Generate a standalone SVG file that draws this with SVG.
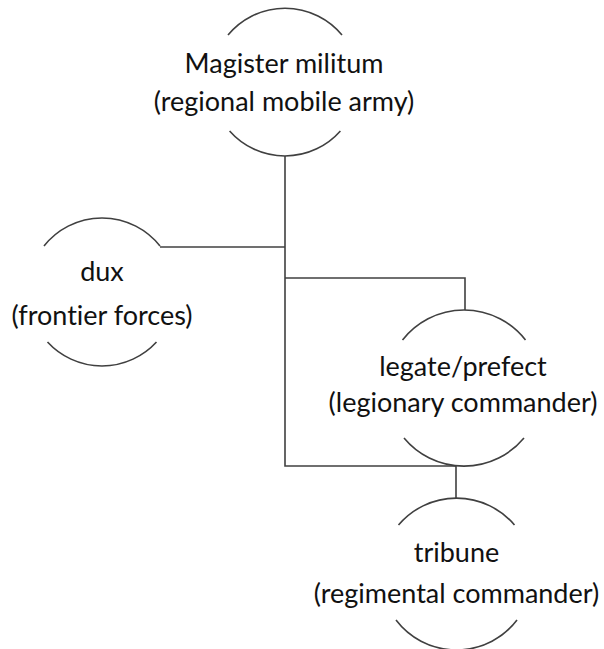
<svg xmlns="http://www.w3.org/2000/svg" width="604" height="649" viewBox="0 0 604 649">
<style>
.arc{fill:none;stroke:#404040;stroke-width:1.6}
.conn{fill:none;stroke:#404040;stroke-width:1.6}
text{font-family:Lato,"Open Sans","Liberation Sans",sans-serif;font-size:27px;fill:#111111;text-anchor:middle;font-variant-ligatures:none;font-feature-settings:"liga" 0,"dlig" 0}
</style>
<rect width="604" height="649" fill="#ffffff"/>
<g id="connectors">
<polyline class="conn" points="285,156 285,466 456,466 456,498"/>
<polyline class="conn" points="160,247 285,247"/>
<polyline class="conn" points="285,278 465,278 465,310"/>
</g>
<g id="magister">
<path class="arc" d="M228,35 A74,74 0 0 1 342,35"/>
<path class="arc" d="M229.6,131 A74,74 0 0 0 340.4,131"/>
<text x="284" y="73">Magister militum</text>
<text x="284" y="111">(regional mobile army)</text>
</g>
<g id="dux">
<path class="arc" d="M44,246 A74,74 0 0 1 160,246"/>
<path class="arc" d="M47.5,342 A74,74 0 0 0 156.5,342"/>
<text x="102" y="281">dux</text>
<text x="102" y="325">(frontier forces)</text>
</g>
<g id="legate">
<path class="arc" d="M402.5,340 A78,78 0 0 1 525.5,340"/>
<path class="arc" d="M404,438 A78,78 0 0 0 524,438"/>
<text x="463" y="376">legate/prefect</text>
<text x="463" y="412">(legionary commander)</text>
</g>
<g id="tribune">
<path class="arc" d="M398.5,525 A76,76 0 0 1 514.5,525"/>
<path class="arc" d="M396,620 A76,76 0 0 0 517,620"/>
<text x="456.5" y="562">tribune</text>
<text x="456.5" y="603">(regimental commander)</text>
</g>
</svg>
